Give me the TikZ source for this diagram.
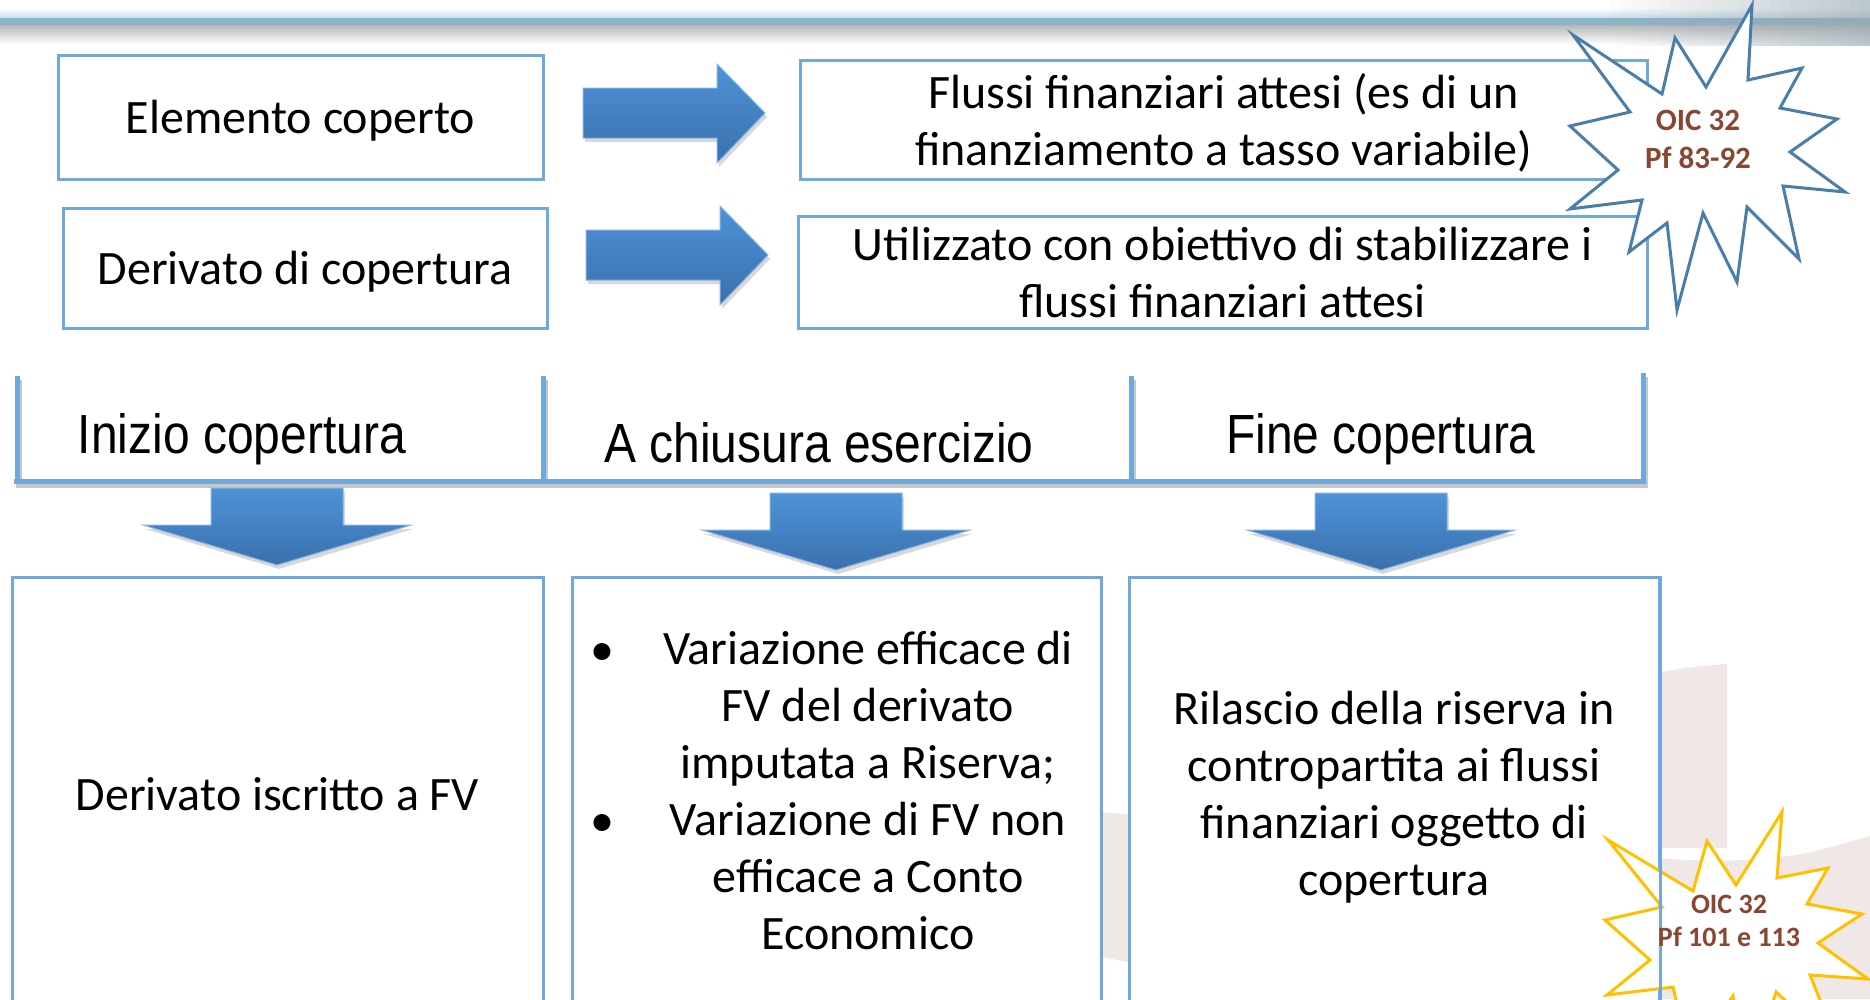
\documentclass[tikz,border=0pt]{standalone}
\usepackage{fontspec}
\usepackage{graphicx}
\setmainfont{Carlito}
\newfontfamily\arialfont{Liberation Sans}
\usetikzlibrary{calc}
\usetikzlibrary{shadows}
\definecolor{boxblue}{RGB}{111,168,220}
\definecolor{arrowtop}{RGB}{78,146,216}
\definecolor{arrowbot}{RGB}{58,112,172}
\definecolor{starblue}{RGB}{74,126,170}
\definecolor{stargold}{RGB}{255,192,0}
\definecolor{oicbrown}{RGB}{138,70,48}
\definecolor{bandteal}{RGB}{140,180,200}
\definecolor{cornergray}{RGB}{150,166,176}
\definecolor{wmpink}{RGB}{240,231,231}
\tikzset{
 txt/.style={font=\fontsize{48}{57}\selectfont, align=center, inner sep=0, text depth=0pt},
 box/.style={draw=boxblue, line width=3, fill=white, inner sep=0},
 phase/.style={font=\arialfont\fontsize{48}{58}\selectfont, inner sep=0},
 blockarrow/.style={top color=arrowtop, bottom color=arrowbot, draw=arrowtop!70!white, line width=1,
   drop shadow={opacity=.3, shadow xshift=2pt, shadow yshift=-4pt}},
 burst/.style={line width=3, fill=white, line join=miter},
 oic/.style={font=\bfseries\fontsize{31}{38}\selectfont, text=oicbrown, align=center, inner sep=0}
}
\begin{document}
\begin{tikzpicture}[x=1pt, y=-1pt]
\useasboundingbox (0,0) rectangle (1870,999);
\clip (0,0) rectangle (1870,999);
\fill[white] (0,0) rectangle (1870,999);
% header band
\shade[top color=white, bottom color=bandteal!45] (0,8) rectangle (1870,18);
\fill[bandteal] (0,18) rectangle (1870,25);
\shade[top color=black!28, bottom color=white] (0,25) rectangle (1870,44);
\foreach \i in {0,...,27} {
 \fill[cornergray, opacity=\i/42] ({1600+\i*10},0) rectangle ({1610+\i*10},46);
}
% watermark
\fill[wmpink] (1662,848) -- (1662,672) .. controls (1690,667) .. (1727,664) -- (1727,848) -- cycle;
\fill[wmpink] (1090,812) .. controls (1400,828) and (1650,866) .. (1740,860) .. controls (1800,856) .. (1870,836)
  -- (1870,999) -- (1300,999) .. controls (1200,975) .. (1090,955) -- cycle;

\node[box, txt, minimum width=485, minimum height=124] (elemento) at (300.5,117) {Elemento coperto};
\node[box, txt, minimum width=484, minimum height=120] (derivato) at (305,268) {Derivato di copertura};
\node[box, txt, minimum width=847, minimum height=119] (flussi) at (1223.5,119.5) {Flussi finanziari attesi (es di un\\finanziamento a tasso variabile)};
\node[box, txt, minimum width=849, minimum height=112] (utilizzo) at (1222.5,272) {Utilizzato con obiettivo di stabilizzare i\\flussi finanziari attesi};

\foreach \ax/\ay in {583/113, 586/255} {
 \path[blockarrow] (\ax,{\ay-25}) -- ({\ax+134},{\ay-25}) -- ({\ax+134},{\ay-49}) -- ({\ax+182},\ay)
   -- ({\ax+134},{\ay+50}) -- ({\ax+134},{\ay+25}) -- (\ax,{\ay+25}) -- cycle;
}

% phases
\foreach \bx/\by in {17/376, 543/376, 1131/376, 1643/373} {
 \draw[black!22, line width=5, shift={(2,4)}] (\bx,\by) -- (\bx,481);
}
\draw[black!22, line width=5, shift={(2,4)}] (14,481) -- (1646,481);
\foreach \bx/\by in {17/376, 543/376, 1131/376, 1643/373} {
 \draw[boxblue, line width=5] (\bx,\by) -- (\bx,481);
}
\draw[boxblue, line width=5] (14,481) -- (1646,481);
\node[phase, anchor=base] (inizio) at (242,453) {\scalebox{1}[1.15]{Inizio copertura}};
\node[phase, anchor=base] (chiusura) at (819,462) {\scalebox{1}[1.15]{A chiusura esercizio}};
\node[phase, anchor=base] (fine) at (1381,453) {\scalebox{1}[1.15]{Fine copertura}};

\foreach \cx/\ty in {277/488, 836/493, 1381/493} {
 \path[blockarrow] ({\cx-66},\ty) -- ({\cx+66},\ty) -- ({\cx+66},{\ty+37}) -- ({\cx+134},{\ty+37})
   -- (\cx,{\ty+77}) -- ({\cx-134},{\ty+37}) -- ({\cx-66},{\ty+37}) -- cycle;
}

\node[box, txt, minimum width=531, minimum height=433] (iscritto) at (277.5,793.5) {Derivato iscritto a FV};
\node[box, minimum width=529, minimum height=433] (chiusuraBox) at (836.5,793.5) {};
\node[box, txt, minimum width=530, minimum height=433] (fineBox) at (1394,793.5) {Rilascio della riserva in\\contropartita ai flussi\\finanziari oggetto di\\copertura};
\node[txt] (chiusuraTxt) at (868,790) {Variazione efficace di\\FV del derivato\\imputata a Riserva;\\Variazione di FV non\\efficace a Conto\\Economico};
\node[txt, anchor=base] (bulA) at (602,665) {\textbullet};
\node[txt, anchor=base] (bulB) at (602,836) {\textbullet};

% bursts
\draw[burst, draw=starblue] (1573,35) -- (1662,94) -- (1675,38) -- (1706,87) -- (1752,5) -- (1748,80)
  -- (1802,68) -- (1780,108) -- (1837,119) -- (1790,152) -- (1845,192) -- (1783,186) -- (1799,259)
  -- (1747,207) -- (1737,282) -- (1703,213) -- (1677,310) -- (1667,223) -- (1629,252) -- (1642,200)
  -- (1570,209) -- (1618,170) -- (1570,126) -- (1630,112) -- cycle;
\node[oic] (oicA) at (1698,139) {OIC 32\\Pf 83-92};
\draw[burst, draw=stargold] (1608,840) -- (1693,891) -- (1707,841) -- (1736,885) -- (1782,812) -- (1777,878)
  -- (1828,868) -- (1807,904) -- (1862,914) -- (1818,943) -- (1868,979) -- (1810,975) -- (1840,1050)
  -- (1776,992) -- (1750,1080) -- (1733,996) -- (1690,1060) -- (1673,987) -- (1607,995) -- (1650,960)
  -- (1605,920) -- (1662,907) -- cycle;
\draw[boxblue, line width=3] (fineBox.north east) -- (fineBox.south east);
\node[oic, font=\bfseries\fontsize{28}{33}\selectfont] (oicB) at (1729,921) {OIC 32\\Pf 101 e 113};
\end{tikzpicture}
\end{document}
